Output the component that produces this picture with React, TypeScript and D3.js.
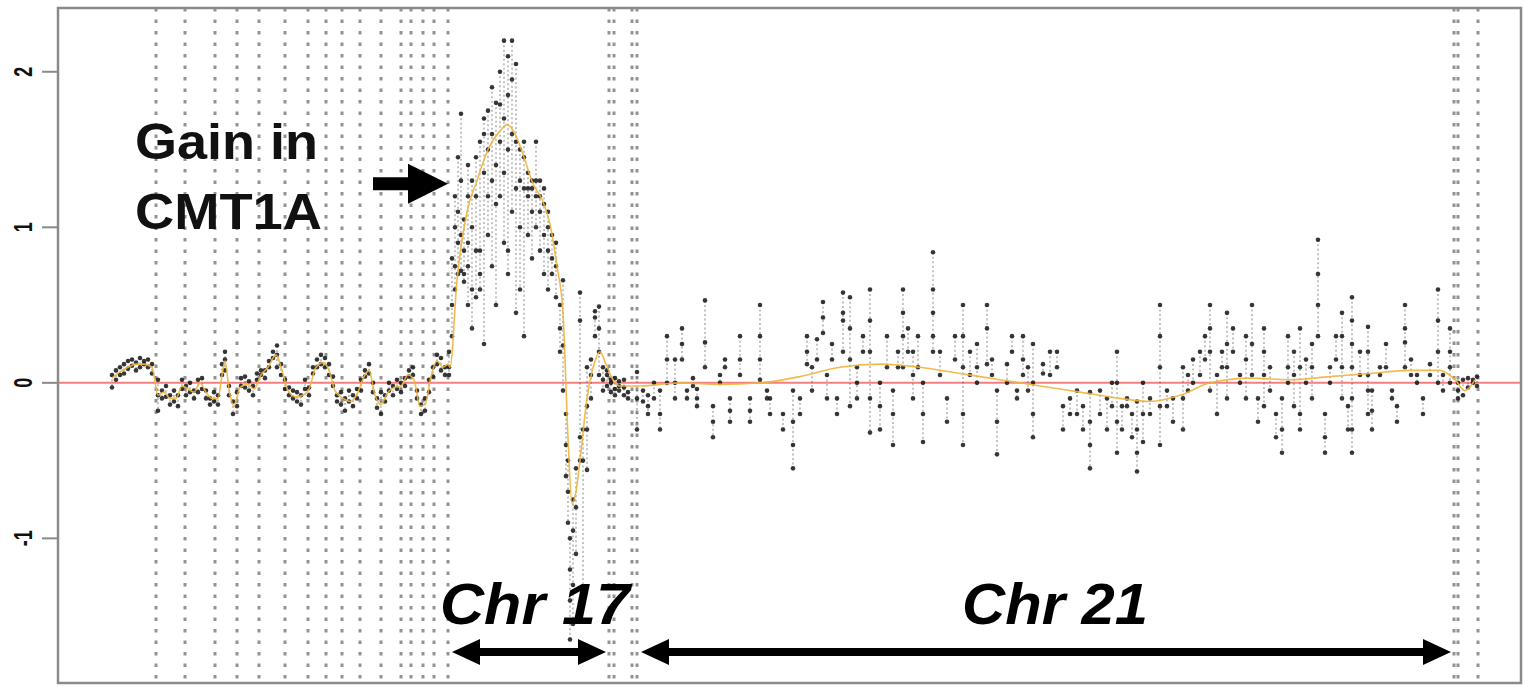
import React from 'react';
import * as d3 from 'd3';

const W = 1525;
const H = 687;

// y axis ticks (log2 ratio)
const yTicks = [-1, 0, 1, 2];

// chromosome / panel boundaries along the concatenated probe track
const boundaries = [98, 127, 157, 179, 201, 227, 250, 268, 284, 302, 323, 343, 353, 365, 376, 390, 551, 556, 574, 579, 1396, 1400, 1420];

// [track position, log ratios of probes at that position]
const controlCols: [number, number[]][] = [
  [54, [-0.03, 0.05]], [58, [0.08, 0.02]], [62, [0.1, 0.05]], [66, [0.12, 0.06]], [70, [0.09, 0.14]],
  [74, [0.11, 0.15]], [78, [0.13, 0.08]], [82, [0.16, 0.1]], [86, [0.14, 0.12]], [90, [0.1, 0.15]],
  [94, [0.06, 0.12]], [100, [0.02, -0.08, -0.18]], [104, [-0.05, -0.1]], [108, [-0.02, -0.09]],
  [112, [-0.08, -0.14]], [116, [-0.12, -0.05]], [120, [-0.15, -0.08]], [124, [-0.04, 0.02]],
  [128, [-0.08, -0.02]], [132, [0.0, -0.06]], [136, [-0.1, -0.05]], [140, [-0.06, 0.02]],
  [144, [0.03, -0.04]], [148, [-0.05, -0.1]], [152, [-0.1, -0.14]], [156, [-0.06, -0.12]],
  [160, [-0.14, -0.08]], [164, [0.05, 0.12]], [167, [0.2, 0.15, 0.08]], [171, [-0.02, -0.08]],
  [175, [-0.12, -0.2]], [179, [-0.15, -0.06]], [183, [-0.02, 0.03]], [187, [0.04, -0.03]],
  [191, [-0.05, 0.01]], [195, [-0.08, -0.02]], [199, [0.02, 0.06]], [203, [0.05, 0.08]],
  [207, [0.08, 0.03]], [211, [0.14, 0.1]], [215, [0.2, 0.16]], [219, [0.24, 0.18, 0.1]],
  [223, [0.12, 0.05]], [227, [0.02, -0.04]], [231, [-0.03, -0.08]], [235, [-0.1, -0.05]],
  [239, [-0.06, -0.12]], [243, [-0.14, -0.08]], [247, [-0.04, 0.02]], [251, [-0.08, -0.03]],
  [255, [0.06, 0.1]], [259, [0.15, 0.1]], [263, [0.18, 0.12]], [267, [0.1, 0.16]],
  [271, [0.05, 0.12]], [275, [-0.02, 0.04]], [279, [-0.08, -0.12]], [283, [-0.14, -0.06]],
  [287, [-0.1, -0.18]], [291, [-0.05, -0.12]], [295, [-0.15, -0.08]], [299, [-0.04, -0.1]],
  [303, [0.02, -0.05]], [307, [0.08, 0.04]], [311, [0.12, 0.06]], [315, [0.0, -0.06]],
  [319, [-0.1, -0.16]], [323, [-0.06, -0.2]], [327, [-0.12, -0.08]], [331, [-0.05, 0.0]],
  [335, [-0.02, -0.08]], [339, [0.02, -0.04]], [343, [-0.06, 0.0]], [347, [0.03, -0.02]],
  [351, [0.08, 0.04]], [355, [0.1, 0.05]], [359, [-0.05, -0.1]], [363, [-0.14, -0.2]],
  [367, [-0.18, -0.1]], [371, [-0.06, 0.02]], [375, [0.04, 0.1]], [379, [0.12, 0.18]],
  [383, [0.16, 0.08]], [387, [0.05, 0.1]],
];

const chr17Cols: [number, number[]][] = [
  [391, [0.1, 0.2, 0.05]], [394, [0.3, 0.5, 0.8]], [397, [0.6, 0.75, 1.0, 1.2]], [400, [0.9, 1.1, 1.45, 0.7]],
  [403, [1.73, 1.3, 0.95, 0.72]], [406, [0.7, 0.65, 0.85, 1.05]], [410, [0.75, 0.9, 1.2, 1.4, 0.5]],
  [414, [1.0, 1.3, 0.6, 0.35]], [418, [1.2, 1.45, 0.85, 0.55]], [422, [0.6, 0.7, 0.85, 1.55]],
  [426, [1.6, 1.35, 1.7, 0.25]], [430, [1.5, 1.75, 1.2, 0.95]], [434, [1.6, 1.9, 1.3, 0.75]],
  [438, [1.8, 1.15, 1.4, 0.5]], [442, [1.79, 2.0, 1.55, 1.2]], [446, [2.2, 1.7, 1.35, 0.9]],
  [450, [2.1, 1.85, 1.5, 0.7, 0.85]], [454, [2.2, 1.95, 1.6, 1.1]], [458, [2.05, 1.55, 1.25, 0.45]],
  [462, [1.5, 1.3, 1.0, 0.6]], [466, [1.45, 1.55, 1.25, 0.3]], [470, [1.35, 1.2, 1.25, 0.95]],
  [474, [1.3, 1.25, 1.1, 0.8]], [478, [1.55, 1.2, 1.3, 1.0]], [482, [1.2, 1.3, 1.1, 0.85]],
  [486, [1.15, 1.25, 0.95, 0.7]], [490, [1.0, 1.1, 0.85, 0.6]], [494, [0.95, 0.8, 0.7]],
  [498, [0.75, 0.55, 0.9]], [502, [0.5, 0.35, 0.2]], [505, [0.66, 0.24, -0.05]],
  [508, [-0.2, -0.4, -0.6]], [510, [-0.9, -0.7, -0.5]], [512, [-1.2, -1.4, -1.65, -1.0]],
  [515, [-1.3, -1.55, -0.95, -0.75]], [518, [-0.55, -0.8, -1.1]], [522, [0.58, 0.4, -0.5, -0.35]],
  [525, [-0.5, -0.3, -1.4]], [529, [-0.3, -0.56, -0.15, 0.1]], [533, [0.05, -0.1, 0.15]],
  [537, [0.46, 0.42, 0.3]], [541, [0.49, 0.35, 0.2, 0.05]], [545, [0.1, 0.02, -0.05]],
  [549, [0.05, -0.02, 0.08]], [553, [0.02, -0.06, 0.0]], [557, [-0.04, 0.03, -0.08]],
  [561, [-0.02, -0.05, 0.01]], [566, [-0.03, 0.02, -0.08]], [570, [-0.06, -0.1]],
];

const chr21Cols: [number, number[]][] = [
  [579, [0.07, -0.1, -0.3]], [585, [-0.05, -0.12]], [590, [-0.15, -0.08, -0.2]], [596, [0.0, -0.1]],
  [602, [-0.2, -0.3, -0.05]], [609, [0.3, 0.15, 0.0]], [617, [0.15, 0.0, -0.1]], [624, [0.35, 0.25, 0.15]],
  [629, [-0.1, -0.05]], [635, [0.03, -0.02]], [639, [-0.1, -0.15, -0.04]], [647, [0.53, 0.26, 0.1]],
  [655, [-0.15, -0.25, -0.35]], [662, [0.0, 0.05]], [667, [0.15, 0.1]], [672, [-0.1, -0.25, -0.18]],
  [682, [0.15, 0.05, 0.3]], [692, [-0.1, -0.25, -0.18]], [702, [0.5, 0.3, 0.15, 0.02]], [709, [-0.05, -0.1]],
  [712, [-0.1, -0.2]], [725, [-0.2, -0.3]], [735, [-0.05, -0.25, -0.4, -0.55]], [742, [-0.1, -0.2]],
  [749, [0.3, 0.2, 0.12]], [754, [0.1, -0.05]], [759, [0.28, 0.15]], [765, [0.52, 0.42, 0.32]],
  [769, [-0.1, 0.05]], [774, [0.25, 0.15]], [779, [-0.1, -0.2]], [785, [0.58, 0.45, 0.4, 0.2]],
  [792, [0.55, 0.35, 0.15, -0.15]], [799, [0.1, 0.0, -0.1]], [805, [0.3, 0.2]],
  [812, [0.6, 0.4, 0.2, -0.1, -0.32]], [822, [0.0, -0.15, -0.3]], [829, [0.3, 0.1]],
  [835, [-0.05, -0.2, -0.4]], [840, [0.2, 0.1]], [845, [0.6, 0.45, 0.3, 0.1]], [850, [0.35, 0.2]],
  [855, [0.2, 0.05, -0.1]], [860, [0.3, 0.1]], [865, [0.0, -0.2, -0.38]], [875, [0.84, 0.6, 0.45, 0.3, 0.2]],
  [882, [0.2, 0.05]], [889, [-0.1, -0.25]], [897, [0.3, 0.15]], [905, [0.5, 0.3, 0.1, -0.2, -0.4]],
  [912, [0.2, 0.05]], [919, [0.25, 0.1, 0.0]], [929, [0.5, 0.35, 0.12]], [934, [0.15, 0.05]],
  [939, [-0.05, -0.25, -0.46]], [949, [0.12, 0.0]], [954, [0.3, 0.2]], [959, [-0.1, -0.05]],
  [965, [0.3, 0.15, 0.05]], [970, [0.1, -0.05]], [975, [0.25, 0.0, -0.2, -0.35]], [985, [0.12, 0.06]],
  [992, [0.2, 0.05]], [999, [0.2, 0.1]], [1005, [-0.15, -0.3]], [1012, [-0.1, -0.2]], [1019, [-0.05, -0.2]],
  [1025, [-0.15, -0.3]], [1032, [-0.06, -0.25, -0.4, -0.55]], [1042, [-0.05, -0.2]], [1049, [-0.1, -0.3]],
  [1054, [0.0, -0.15]], [1059, [0.2, 0.0, -0.25, -0.45]], [1064, [-0.3, -0.15]], [1069, [-0.15, -0.1]],
  [1074, [-0.2, -0.35]], [1079, [-0.12, -0.3, -0.45, -0.57]], [1085, [0.0, -0.2, -0.38]], [1092, [-0.1, -0.2]],
  [1102, [0.5, 0.3, 0.1, -0.15, -0.4]], [1109, [-0.05, -0.15]], [1115, [-0.1, -0.25]], [1125, [0.1, -0.1, -0.3]],
  [1130, [0.05, -0.05]], [1135, [0.15, 0.0]], [1142, [0.2, 0.05]], [1147, [0.3, 0.15]],
  [1152, [0.5, 0.35, 0.2, -0.05]], [1159, [0.05, -0.2]], [1164, [0.2, 0.1]], [1169, [0.45, 0.25, 0.1, -0.1]],
  [1175, [0.35, 0.2]], [1182, [0.05, 0.0]], [1188, [0.3, 0.15, -0.1]], [1194, [0.5, 0.25, 0.05]],
  [1200, [-0.1, -0.25]], [1206, [0.35, 0.2, 0.05, -0.15]], [1212, [0.1, -0.05]], [1218, [-0.2, -0.35]],
  [1224, [-0.1, -0.3, -0.45]], [1230, [0.3, 0.1, 0.0]], [1236, [0.2, 0.05, -0.15]], [1242, [0.35, 0.1, -0.2, -0.3]],
  [1248, [0.15, 0.0]], [1254, [0.25, 0.1, -0.1]], [1260, [0.92, 0.7, 0.5, 0.3]], [1267, [-0.2, -0.35, -0.45]],
  [1272, [0.1, 0.0]], [1278, [0.3, 0.15]], [1284, [0.45, 0.3, 0.1, -0.1]], [1290, [-0.15, -0.3]],
  [1294, [0.55, 0.4, 0.25, 0.1, -0.1, -0.3, -0.45]], [1302, [0.2, 0.05]], [1310, [0.36, 0.2, 0.05, -0.05, -0.2]],
  [1314, [-0.05, -0.18, -0.3]], [1322, [0.05, 0.1]], [1328, [0.25, 0.1]], [1334, [-0.1, -0.05]],
  [1339, [-0.25, -0.15]], [1347, [0.5, 0.35, 0.26, 0.1]], [1353, [0.15, 0.05]], [1359, [0.0, 0.05]],
  [1365, [-0.1, -0.2]], [1372, [0.12, 0.05]], [1380, [0.6, 0.4, 0.2, 0.0]], [1385, [-0.05, 0.05]],
  [1392, [0.35, 0.2, 0.1, 0.0]], [1400, [-0.05, -0.1, 0.0]], [1405, [-0.08, 0.02]], [1410, [-0.03, 0.03]],
  [1415, [0.02, 0.0]], [1419, [0.04, -0.02]],
];

// smoothed (loess-like) fit
const smooth: [number, number][] = [
  [54, 0.03], [62, 0.07], [70, 0.1], [78, 0.12], [86, 0.12], [94, 0.1], [100, -0.08], [106, -0.06],
  [112, -0.1], [118, -0.1], [124, -0.02], [130, -0.04], [136, -0.06], [142, 0.0], [148, -0.06],
  [154, -0.1], [160, -0.1], [164, 0.05], [167, 0.14], [171, -0.04], [176, -0.15], [182, -0.03],
  [190, -0.01], [196, -0.04], [203, 0.05], [210, 0.1], [218, 0.18], [224, 0.08], [230, -0.05],
  [238, -0.09], [245, -0.08], [251, -0.04], [258, 0.1], [265, 0.13], [271, 0.08], [277, -0.05],
  [285, -0.1], [293, -0.12], [300, -0.06], [306, 0.04], [311, 0.08], [317, -0.08], [323, -0.14],
  [329, -0.07], [336, -0.03], [343, -0.02], [350, 0.05], [356, 0.02], [362, -0.15], [367, -0.14],
  [373, 0.04], [379, 0.14], [385, 0.1], [390, 0.12],
  [392, 0.1], [399, 0.66], [409, 1.1], [419, 1.3], [430, 1.5], [442, 1.62], [449, 1.66], [457, 1.6],
  [466, 1.45], [475, 1.28], [484, 1.18], [492, 1.02], [499, 0.75], [505, 0.45], [510, -0.35],
  [514, -0.78], [518, -0.7], [522, -0.5], [529, -0.1], [536, 0.12], [542, 0.2], [548, 0.12],
  [555, 0.02], [562, -0.02],
  [582, -0.02], [622, 0.0], [662, -0.01], [702, 0.0], [742, 0.04], [782, 0.1], [822, 0.12],
  [862, 0.1], [902, 0.06], [942, 0.02], [982, -0.02], [1022, -0.06], [1062, -0.1], [1092, -0.12],
  [1122, -0.08], [1152, 0.0], [1192, 0.03], [1232, 0.02], [1272, 0.04], [1312, 0.06], [1352, 0.08],
  [1382, 0.08], [1397, 0.02], [1407, -0.05], [1417, 0.02],
];

const FONT = 'Liberation Sans, Arial, sans-serif';

function doubleArrow(x1: number, x2: number, y: number, t: number, L: number, h: number) {
  return [
    [x1, y], [x1 + L, y - h], [x1 + L, y - t], [x2 - L, y - t], [x2 - L, y - h],
    [x2, y], [x2 - L, y + h], [x2 - L, y + t], [x1 + L, y + t], [x1 + L, y + h],
  ].map((p) => p.join(',')).join(' ');
}

function rightArrow(x1: number, x2: number, y: number, t: number, L: number, h: number) {
  return [
    [x1, y - t], [x2 - L, y - t], [x2 - L, y - h], [x2, y],
    [x2 - L, y + h], [x2 - L, y + t], [x1, y + t],
  ].map((p) => p.join(',')).join(' ');
}

export default function App() {
  const x = d3.scaleLinear().domain([0, 1463]).range([58, 1521]);
  const y = d3.scaleLinear().domain([-1.93, 2.41]).range([683, 8]);
  const [x0, x1] = x.range();
  const [y0, y1] = y.range();

  const line = d3
    .line<[number, number]>()
    .x((d) => x(d[0]))
    .y((d) => y(d[1]))
    .curve(d3.curveMonotoneX);

  const allCols = [...controlCols, ...chr17Cols, ...chr21Cols];

  const chr17 = [boundaries[15], boundaries[16]];
  const chr21 = [boundaries[19], boundaries[20]];
  const arrowY = y(-1.73);

  return (
    <svg width={W} height={H} style={{ position: 'absolute', left: 0, top: 0, background: '#fff' }}>
      {/* chromosome boundaries */}
      {boundaries.map((b, i) => (
        <line key={'b' + i} x1={x(b)} x2={x(b)} y1={y1} y2={y0}
          stroke="#939393" strokeWidth={3} strokeDasharray="3.5 8" />
      ))}

      {/* zero line */}
      <line x1={x0} x2={x1} y1={y(0)} y2={y(0)} stroke="#f37f7f" strokeWidth={2} />

      {/* probe columns */}
      <g>
        {allCols.map(([p, vals], i) =>
          vals.length > 1 ? (
            <line key={'c' + i} x1={x(p)} x2={x(p)}
              y1={y(d3.max(vals) as number)} y2={y(d3.min(vals) as number)}
              stroke="#444" strokeOpacity={0.45} strokeWidth={1.4} strokeDasharray="2 2.5" />
          ) : null
        )}
        {allCols.map(([p, vals], i) =>
          vals.map((v, j) => (
            <circle key={`p${i}-${j}`} cx={x(p)} cy={y(v)} r={2.3} fill="#151515" fillOpacity={0.85} />
          ))
        )}
      </g>

      {/* smoothed fit */}
      <path d={line(smooth) || ''} fill="none" stroke="#f0b43c" strokeWidth={1.6} strokeOpacity={0.9} />

      {/* frame */}
      <rect x={x0} y={y1} width={x1 - x0} height={y0 - y1} fill="none" stroke="#8a8a8a" strokeWidth={2.5} />

      {/* y axis */}
      {yTicks.map((t) => (
        <g key={'t' + t}>
          <line x1={x0 - 16} x2={x0} y1={y(t)} y2={y(t)} stroke="#8a8a8a" strokeWidth={2} />
          <text
            transform={`translate(32, ${y(t)}) scale(1.45, 1) rotate(-90)`}
            textAnchor="middle"
            fontFamily={FONT}
            fontWeight="bold"
            fontSize={18}
            fill="#111"
          >
            {t}
          </text>
        </g>
      ))}

      {/* annotations */}
      <text x={135} y={159} fontFamily={FONT} fontWeight="bold" fontSize={50} fill="#111"
        textLength={183} lengthAdjust="spacingAndGlyphs">Gain in</text>
      <text x={135} y={229} fontFamily={FONT} fontWeight="bold" fontSize={50} fill="#111"
        textLength={187} lengthAdjust="spacingAndGlyphs">CMT1A</text>
      <polygon points={rightArrow(373, x(chr17[0]), y(1.28), 6.5, 40, 20)} fill="#000" />

      <text x={440} y={624} fontFamily={FONT} fontWeight="bold" fontStyle="italic" fontSize={58}
        fill="#000" textLength={190} lengthAdjust="spacingAndGlyphs">Chr 17</text>
      <text x={962} y={624} fontFamily={FONT} fontWeight="bold" fontStyle="italic" fontSize={58}
        fill="#000" textLength={186} lengthAdjust="spacingAndGlyphs">Chr 21</text>

      <polygon points={doubleArrow(x(chr17[0]) + 4, x(chr17[1]) - 3, arrowY, 4, 28, 13)} fill="#000" />
      <polygon points={doubleArrow(x(chr21[0]) + 4, x(chr21[1]) - 3, arrowY, 4, 28, 13)} fill="#000" />
    </svg>
  );
}
